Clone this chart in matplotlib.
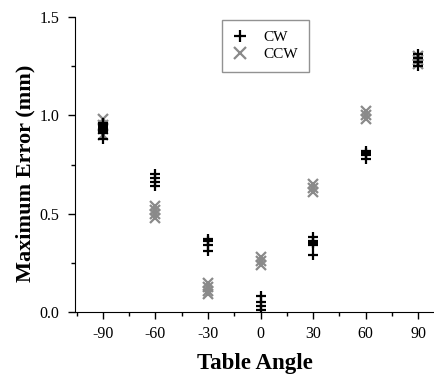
import matplotlib
matplotlib.use("Agg")
import matplotlib.pyplot as plt
from matplotlib.ticker import MultipleLocator, FormatStrFormatter

plt.rcParams['font.family'] = ['Liberation Serif', 'DejaVu Serif']
plt.rcParams['axes.unicode_minus'] = False

# table angles and the repeated measurements at each one
angles = [-90, -60, -30, 0, 30, 60, 90]
cw_values = [
    [0.88, 0.91, 0.92, 0.93, 0.94, 0.95, 0.96],
    [0.64, 0.66, 0.68, 0.70],
    [0.31, 0.34, 0.36, 0.37],
    [0.01, 0.03, 0.05, 0.08],
    [0.29, 0.34, 0.35, 0.36, 0.38],
    [0.78, 0.80, 0.81, 0.82],
    [1.25, 1.27, 1.29, 1.31],
]
ccw_values = [
    [0.90, 0.93, 0.95, 0.98],
    [0.48, 0.50, 0.52, 0.54],
    [0.09, 0.11, 0.13, 0.15],
    [0.24, 0.26, 0.28],
    [0.61, 0.63, 0.65],
    [0.98, 1.00, 1.02],
    [1.26, 1.28, 1.30],
]

fig = plt.figure(figsize=(4.35, 3.77), dpi=100)
ax = fig.add_axes([0.172, 0.172, 0.83, 0.783])

for i, a in enumerate(ccw_values):
    ax.plot([angles[i]] * len(a), a, linestyle='none', marker='x', color='#8a8a8a',
            ms=7, mew=1.6, label='CCW' if i == 0 else None, zorder=2)
for i, a in enumerate(cw_values):
    ax.plot([angles[i]] * len(a), a, linestyle='none', marker='+', color='black',
            ms=7, mew=1.6, label='CW' if i == 0 else None, zorder=3)

ax.set_xlim(-106, 100)
ax.set_ylim(0, 1.5)
ax.set_xticks(angles)
ax.xaxis.set_minor_locator(MultipleLocator(15))
ax.yaxis.set_major_locator(MultipleLocator(0.5))
ax.yaxis.set_minor_locator(MultipleLocator(0.25))
ax.yaxis.set_major_formatter(FormatStrFormatter('%.1f'))
ax.tick_params(which='major', direction='out', length=5, width=1, labelsize=11.5)
ax.tick_params(axis='y', which='major', pad=6)
ax.tick_params(axis='x', which='major', pad=5)
ax.tick_params(which='minor', direction='out', length=3, width=1)

for s in ['top', 'right']:
    ax.spines[s].set_visible(False)

ax.set_xlabel('Table Angle', fontsize=16.5, fontweight='bold', labelpad=8)
ax.set_ylabel('Maximum Error (mm)', fontsize=16, fontweight='bold')
ax.yaxis.set_label_coords(-0.11, 0.47)

h, l = ax.get_legend_handles_labels()
leg = ax.legend(h[::-1], l[::-1], loc='upper left', bbox_to_anchor=(222 / 435, 1 - 20 / 377),
                bbox_transform=fig.transFigure, borderaxespad=0, fancybox=False, fontsize=11,
                edgecolor='#777777', handlelength=1.0, borderpad=0.7, labelspacing=0.2,
                handletextpad=1.0, markerscale=1.3)
leg.get_frame().set_linewidth(1.0)

fig.savefig('out.png', dpi=100)
